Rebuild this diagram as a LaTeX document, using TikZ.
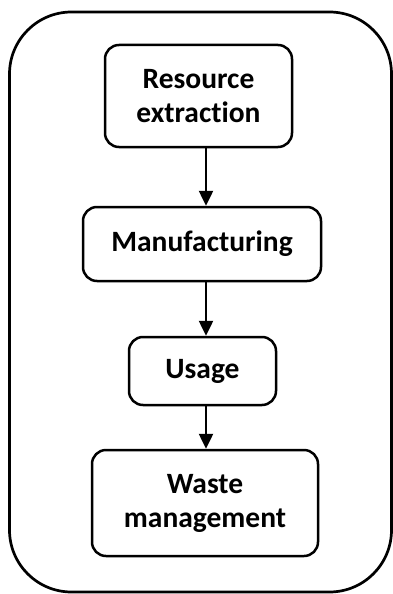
\documentclass[tikz,border=0pt]{standalone}
\usepackage{fontspec}
\setmainfont{Carlito}[Ligatures={NoCommon,NoContextual},RawFeature={-liga;-dlig;-calt}]
\usetikzlibrary{arrows.meta}
\tikzset{
  stage/.style={draw=black, line width=2.5pt, rounded corners=14pt, align=center,
    inner sep=0pt, font=\fontsize{29.5}{34}\selectfont\bfseries},
  flow/.style={line width=2.5pt, -{Triangle[length=15pt,width=14pt]}},
  frame/.style={draw=black, line width=2.7pt, rounded corners=62pt}
}
\begin{document}
\begin{tikzpicture}[x=1pt,y=1pt]
  \useasboundingbox (0,0) rectangle (393,-594);
  % outer frame around the life cycle
  \draw[frame] (9.5,-12) rectangle (391.5,-592);
  % stages (the kern keeps t and i as separate glyphs)
  \node[stage, minimum width=187pt, minimum height=102pt] (rx) at (198.5,-96) {Resource\\extrac\kern0pt tion};
  \node[stage, minimum width=238pt, minimum height=74pt] (mf) at (202,-244) {Manufacturing};
  \node[stage, minimum width=147pt, minimum height=68pt] (us) at (202.5,-371) {Usage};
  \node[stage, minimum width=226pt, minimum height=106pt] (wm) at (205,-503) {Waste\\management};
  % column of the connectors
  \coordinate (ax) at (206,0);
  \draw[flow] (rx.south -| ax) -- (mf.north -| ax);
  \draw[flow] (mf.south -| ax) -- (us.north -| ax);
  \draw[flow] (us.south -| ax) -- (wm.north -| ax);
\end{tikzpicture}
\end{document}
